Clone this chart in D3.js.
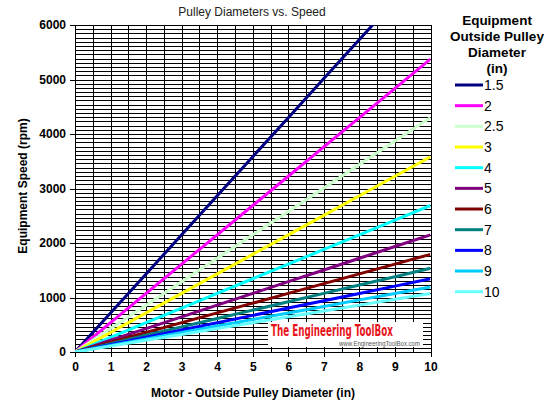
<!DOCTYPE html>
<meta charset="utf-8">
<head>
  <meta charset="utf-8">
  <title>Pulley Diameters vs. Speed</title>
</head>
<style>
body { margin: 0; background: #fff; }
svg { font-family: 'Liberation Sans', Arial, sans-serif; }
.tick text { font-size: 12px; font-weight: bold; fill: #000; }
</style>
<body>
<div id="chart"></div>

<script src="https://cdnjs.cloudflare.com/ajax/libs/d3/7.8.5/d3.min.js"></script>
<script>

// motor pulley diameters (in) - x axis
var motorDiam = [0, 1, 2, 3, 4, 5, 6, 7, 8, 9, 10]

// equipment pulley diameters - one series each
var equipDiam = ['1.5', '2', '2.5', '3', '4', '5', '6', '7', '8', '9', '10']

// equipment speed (rpm), one array per series
var speed15 = [0, 717, 1433, 2150, 2867, 3583, 4300, 5017, 5733, 6450, 7167]
var speed2  = [0, 538, 1075, 1613, 2150, 2688, 3225, 3763, 4300, 4838, 5375]
var speed25 = [0, 430, 860, 1290, 1720, 2150, 2580, 3010, 3440, 3870, 4300]
var speed3  = [0, 358, 717, 1075, 1433, 1792, 2150, 2508, 2867, 3225, 3583]
var speed4  = [0, 269, 538, 806, 1075, 1344, 1613, 1881, 2150, 2419, 2688]
var speed5  = [0, 215, 430, 645, 860, 1075, 1290, 1505, 1720, 1935, 2150]
var speed6  = [0, 179, 358, 538, 717, 896, 1075, 1254, 1433, 1613, 1792]
var speed7  = [0, 154, 307, 461, 614, 768, 921, 1075, 1229, 1382, 1536]
var speed8  = [0, 134, 269, 403, 538, 672, 806, 941, 1075, 1209, 1344]
var speed9  = [0, 119, 239, 358, 478, 597, 717, 836, 956, 1075, 1194]
var speed10 = [0, 108, 215, 323, 430, 538, 645, 753, 860, 968, 1075]

var xTicks = [0, 1, 2, 3, 4, 5, 6, 7, 8, 9, 10]
var yTicks = [0, 1000, 2000, 3000, 4000, 5000, 6000]

var colors = ['#000080', '#FF00FF', '#CCFFCC', '#FFFF00', '#00FFFF', '#800080',
              '#800000', '#008080', '#0000FF', '#00CCFF', '#66FFFF']

var allSpeeds = [speed15, speed2, speed25, speed3, speed4, speed5, speed6, speed7, speed8, speed9, speed10]

var width = 544
var height = 419
// plot box (named so they don't clash with window.top)
var plotL = 75, plotR = 430.5, plotT = 25, plotB = 352

var svg = d3.select('#chart').append('svg')
    .attr('width', width)
    .attr('height', height)

var x = d3.scaleLinear().domain([0, 10]).range([plotL, plotR])
var y = d3.scaleLinear().domain([0, 6000]).range([plotB, plotT])

// grid - vertical every 0.5 in, horizontal: 13 minor lines per 1000 rpm
var minorY = []
yTicks.slice(0, -1).forEach(function (t) {
  for (var k = 0; k < 13; k++) minorY.push(t + k * 1000 / 13)
})
minorY.push(6000)

var grid = svg.append('g').attr('stroke', '#000').attr('stroke-width', 1).attr('shape-rendering', 'crispEdges')
grid.selectAll('.vg').data(d3.range(0, 10.01, 0.5)).enter().append('line')
    .attr('x1', function (d) { return Math.round(x(d)) + 0.5 })
    .attr('x2', function (d) { return Math.round(x(d)) + 0.5 })
    .attr('y1', plotT).attr('y2', plotB)
grid.selectAll('.hg').data(minorY).enter().append('line')
    .attr('x1', plotL).attr('x2', plotR)
    .attr('y1', function (d) { return Math.round(y(d)) + 0.5 })
    .attr('y2', function (d) { return Math.round(y(d)) + 0.5 })

// watermark box
var wm = svg.append('g')
wm.append('rect').attr('x', 268).attr('y', 322).attr('width', 155).attr('height', 25).attr('fill', '#fff')
wm.append('text').attr('x', 271).attr('y', 336)
    .attr('textLength', 122).attr('lengthAdjust', 'spacingAndGlyphs')
    .style('font-family', "'Liberation Sans Narrow', 'DejaVu Sans Condensed', sans-serif")
    .style('font-size', '15px').style('font-weight', 'bold').attr('fill', '#E8141B')
    .text('The Engineering ToolBox')
wm.append('text').attr('x', 339).attr('y', 346)
    .attr('textLength', 81).attr('lengthAdjust', 'spacingAndGlyphs')
    .style('font-size', '7px').attr('fill', '#555')
    .text('www.EngineeringToolBox.com')

// axes
svg.append('g').attr('transform', 'translate(0,' + plotB + ')')
    .call(d3.axisBottom(x).tickValues(xTicks).tickSize(5).tickPadding(5).tickFormat(d3.format('d')))
svg.append('g').attr('transform', 'translate(' + plotL + ',0)')
    .call(d3.axisLeft(y).tickValues(yTicks).tickSize(5).tickPadding(4).tickFormat(d3.format('d')))
svg.selectAll('.domain').remove()
svg.selectAll('.tick line').attr('stroke', '#000').attr('shape-rendering', 'crispEdges')

// lines, clipped to the plot box
svg.append('clipPath').attr('id', 'plotclip').append('rect')
    .attr('x', plotL).attr('y', plotT).attr('width', plotR - plotL).attr('height', plotB - plotT)

var line = d3.line()
    .x(function (d, i) { return x(motorDiam[i]) })
    .y(function (d) { return y(d) })

svg.append('g').attr('clip-path', 'url(#plotclip)')
    .selectAll('.series').data(allSpeeds).enter().append('path')
    .attr('class', 'series')
    .attr('d', line)
    .attr('fill', 'none')
    .attr('stroke', function (d, i) { return colors[i] })
    .attr('stroke-width', 3)

// titles
svg.append('text').attr('x', 252).attr('y', 16).attr('text-anchor', 'middle')
    .style('font-size', '12px').attr('fill', '#222').text('Pulley Diameters vs. Speed')
svg.append('text').attr('x', 253).attr('y', 397).attr('text-anchor', 'middle')
    .style('font-size', '12px').style('font-weight', 'bold').text('Motor - Outside Pulley Diameter (in)')
svg.append('text').attr('transform', 'translate(27,186) rotate(-90)').attr('text-anchor', 'middle')
    .style('font-size', '12px').style('font-weight', 'bold').text('Equipment Speed (rpm)')

// legend
var legTitle = ['Equipment', 'Outside Pulley', 'Diameter', '(in)']
svg.append('g').selectAll('text').data(legTitle).enter().append('text')
    .attr('x', 497).attr('y', function (d, i) { return 25 + i * 16 })
    .attr('text-anchor', 'middle')
    .style('font-size', '13.5px').style('font-weight', 'bold')
    .text(function (d) { return d })

var leg = svg.append('g').selectAll('.leg').data(equipDiam).enter().append('g')
    .attr('transform', function (d, i) { return 'translate(0,' + (85 + i * 20.67) + ')' })
leg.append('line').attr('x1', 455).attr('x2', 483).attr('y1', 0).attr('y2', 0)
    .attr('stroke', function (d, i) { return colors[i] }).attr('stroke-width', 3)
leg.append('text').attr('x', 484).attr('y', 5)
    .style('font-size', '14px')
    .text(function (d) { return d })

</script>
</body>
